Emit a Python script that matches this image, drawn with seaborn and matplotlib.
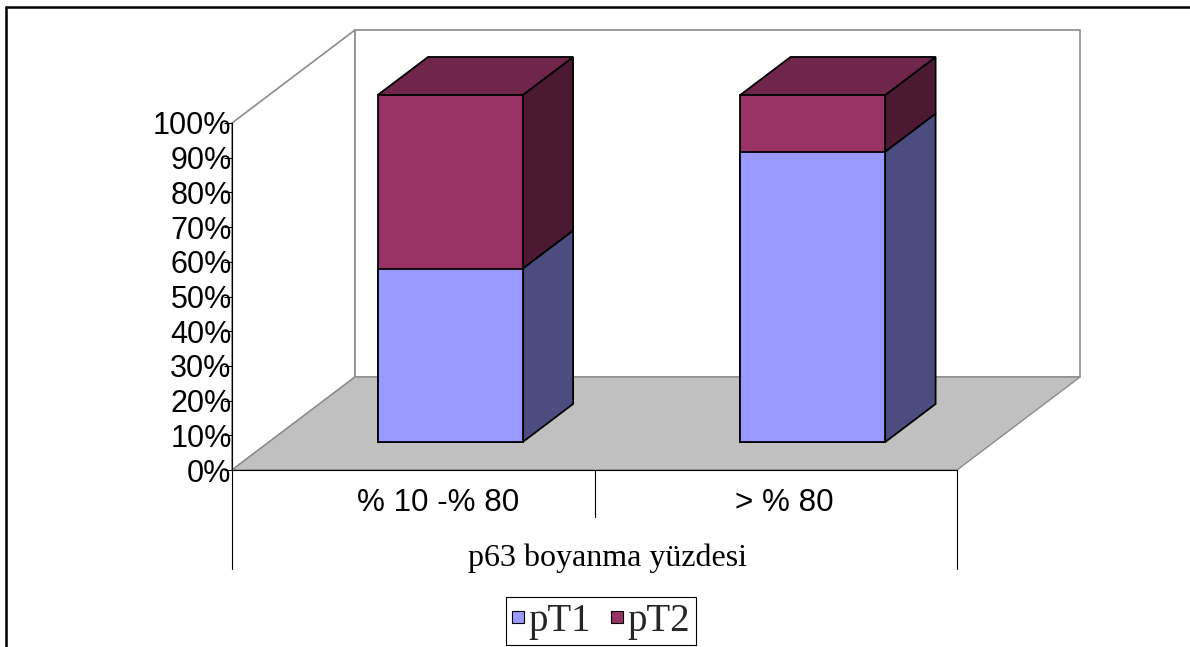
import matplotlib
matplotlib.use("Agg")
import matplotlib.pyplot as plt
from matplotlib.patches import Polygon
from matplotlib.lines import Line2D
from matplotlib.transforms import Affine2D
import seaborn as sns

# ---- data -------------------------------------------------------------
categories = ["% 10 -% 80", "> % 80"]
pt1 = [50.0, 83.7]
pt2 = [50.0, 16.3]
series_names = ["pT1", "pT2"]
y_ticks = list(range(0, 101, 10))
y_tick_labels = [f"{t}%" for t in y_ticks]
axis_title = "p63 boyanma yüzdesi"

# ---- style ------------------------------------------------------------
sns.set_theme(style="white")
plt.rcParams["font.family"] = ["Liberation Sans", "DejaVu Sans"]

front = {"pT1": "#9999FF", "pT2": "#993366"}
side = {"pT1": "#4C4C80", "pT2": "#4C1933"}
top = {"pT1": "#6E6EB8", "pT2": "#70254A"}
wall_edge = "#8C8C8C"
floor_fill = "#C0C0C0"

W, H = 1190, 647
fig = plt.figure(figsize=(W / 100, H / 100), dpi=100, facecolor="white")

# front plane of the chart (value axis plane), pixel box
left_px, right_px, bottom_px, top_px = 232, 957, 470, 123
ax = fig.add_axes([left_px / W, 1 - bottom_px / H,
                   (right_px - left_px) / W, (bottom_px - top_px) / H])
ax.patch.set_visible(False)

n = len(categories)

# oblique depth, expressed in data units for a full-depth step
DX = 123 / ((right_px - left_px) / n)
DY = 93 / ((bottom_px - top_px) / 100)
BAR_D0, BAR_D1 = 0.30, 0.71


def proj(x, y, d):
    return (x + d * DX, y + d * DY)


# ---- bars (front faces) via seaborn ------------------------------------
totals = [a + b for a, b in zip(pt1, pt2)]
bar_kw = dict(saturation=1, width=0.4, edgecolor="black", linewidth=1.3,
              ax=ax, zorder=3)
sns.barplot(x=categories, y=totals, color=front["pT2"], **bar_kw)
n_first = len(ax.patches)
sns.barplot(x=categories, y=pt1, color=front["pT1"], **bar_kw)
total_bars = ax.patches[:n_first]
pt1_bars = ax.patches[n_first:]

ax.set_xlim(-0.5, n - 0.5)
ax.set_ylim(0, 100)
ax.set_xlabel("")
ax.set_ylabel("")

shift = Affine2D().translate(BAR_D0 * DX, BAR_D0 * DY) + ax.transData
for p in list(total_bars) + list(pt1_bars):
    p.set_transform(shift)
    p.set_clip_on(False)

# ---- walls and floor --------------------------------------------------
x0, x1 = -0.5, n - 0.5
floor = Polygon([proj(x0, 0, 0), proj(x1, 0, 0), proj(x1, 0, 1), proj(x0, 0, 1)],
                closed=True, facecolor=floor_fill, edgecolor=wall_edge,
                linewidth=1.0, zorder=0.5, clip_on=False)
back = Polygon([proj(x0, 0, 1), proj(x1, 0, 1), proj(x1, 100, 1), proj(x0, 100, 1)],
               closed=True, facecolor="white", edgecolor=wall_edge,
               linewidth=1.2, zorder=0.4, clip_on=False)
leftw = Polygon([proj(x0, 0, 0), proj(x0, 100, 0), proj(x0, 100, 1), proj(x0, 0, 1)],
                closed=True, facecolor="white", edgecolor=wall_edge,
                linewidth=1.2, zorder=0.3, clip_on=False)
for poly in (leftw, back, floor):
    ax.add_patch(poly)

# ---- 3D side and top faces of the stacked bars ------------------------
for i, p in enumerate(pt1_bars):
    bx, bw = p.get_x(), p.get_width()
    segments = [(0.0, pt1[i], "pT1"), (pt1[i], totals[i], "pT2")]
    for y0, y1, s in segments:
        xr = bx + bw
        face = Polygon([proj(xr, y0, BAR_D0), proj(xr, y0, BAR_D1),
                        proj(xr, y1, BAR_D1), proj(xr, y1, BAR_D0)],
                       closed=True, facecolor=side[s], edgecolor="black",
                       linewidth=1.3, zorder=2.5, clip_on=False)
        ax.add_patch(face)
    y_top = totals[i]
    cap = Polygon([proj(bx, y_top, BAR_D0), proj(bx + bw, y_top, BAR_D0),
                   proj(bx + bw, y_top, BAR_D1), proj(bx, y_top, BAR_D1)],
                  closed=True, facecolor=top["pT2"], edgecolor="black",
                  linewidth=1.3, zorder=2.5, clip_on=False)
    ax.add_patch(cap)

# ---- axes, ticks, labels ----------------------------------------------
for name, sp in ax.spines.items():
    if name in ("left", "bottom"):
        sp.set_visible(True)
        sp.set_color("black")
        sp.set_linewidth(0.8)
        sp.set_zorder(4)
    else:
        sp.set_visible(False)

ax.set_yticks(y_ticks)
ax.set_yticklabels(y_tick_labels, fontsize=22, color="black")
ax.tick_params(axis="y", left=True, direction="out", length=5.8, width=0.8,
               color="black", pad=-5.5)
ax.set_xticks(range(n))
ax.tick_params(axis="x", bottom=False, labelbottom=False)

# category labels (first level) and axis title (second level)
label_dx = [0.068, 0.023]
for i, lab in enumerate(categories):
    ax.text(i + label_dx[i], -9.5, lab, ha="center", va="center",
            fontsize=22.6, color="black", clip_on=False)

ax.text(0.536, -25.3, axis_title, ha="center", va="center",
        fontsize=23, family=["Liberation Serif", "DejaVu Serif"],
        color="black", clip_on=False)

# category separators
sep_kw = dict(color="black", linewidth=0.8, clip_on=False, zorder=4)
ax.plot([x0, x0], [0, -28.5], **sep_kw)
ax.plot([x1, x1], [0, -28.5], **sep_kw)
for k in range(1, n):
    ax.plot([k - 0.5, k - 0.5], [0, -13.5], **sep_kw)

# ---- legend -----------------------------------------------------------
handles = [Line2D([], [], linestyle="none", marker="s", markersize=8.2,
                  markerfacecolor=front[s], markeredgecolor="black",
                  markeredgewidth=0.8, label=s)
           for s in series_names]
leg = fig.legend(handles=handles, loc="center",
                 bbox_to_anchor=(601 / W, 1 - 621 / H), ncol=2,
                 frameon=True, fancybox=False, edgecolor="black",
                 prop={"family": ["Liberation Serif", "DejaVu Serif"], "size": 28},
                 handlelength=0.34, handletextpad=0.1,
                 columnspacing=0.5, borderpad=0.15, borderaxespad=0.0)
leg.get_frame().set_linewidth(0.8)
leg.get_frame().set_alpha(1)

# ---- outer frame (top and left edges) ---------------------------------
fig.add_artist(Line2D([6 / W, 1.0], [1 - 7 / H, 1 - 7 / H],
                      transform=fig.transFigure, color="black", linewidth=1.8))
fig.add_artist(Line2D([6 / W, 6 / W], [0.0, 1 - 7 / H],
                      transform=fig.transFigure, color="black", linewidth=1.8))

fig.savefig("out.png", dpi=100, facecolor="white")
